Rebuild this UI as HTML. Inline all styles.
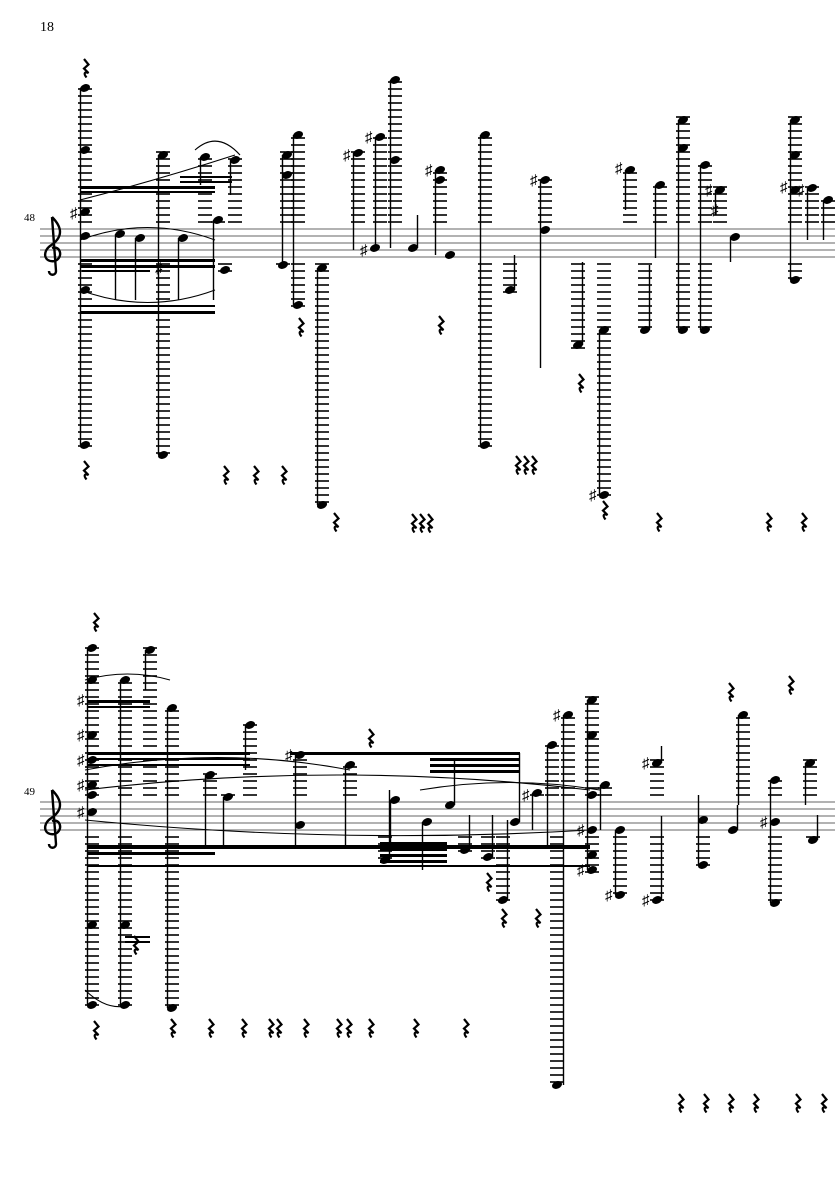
<!DOCTYPE html>
<html><head><meta charset="utf-8"><style>
html,body{margin:0;padding:0;background:#fff;}
svg{display:block;}
text{font-family:"Liberation Serif",serif;}
</style></head><body>
<svg id="s" width="835" height="1181" viewBox="0 0 835 1181" xmlns="http://www.w3.org/2000/svg">
<text x="40" y="31" font-size="14">18</text>
<text x="24" y="221" font-size="11">48</text>
<text x="24" y="795" font-size="11">49</text>
</svg>
<script>
var s=document.getElementById('s'),out='';
function L(x1,y1,x2,y2,w,c){out+='<line x1="'+x1+'" y1="'+y1+'" x2="'+x2+'" y2="'+y2+'" stroke="'+(c||'#000')+'" stroke-width="'+(w||1.3)+'"/>';}
function staff(t){for(var i=0;i<5;i++)L(40,t+i*7,835,t+i*7,1,'#666');
 out+='<path d="M52 '+(t-12)+' C62 '+(t-2)+' 64 '+(t+8)+' 50 '+(t+17)+' C42 '+(t+23)+' 44 '+(t+34)+' 55 '+(t+32)+' C64 '+(t+28)+' 60 '+(t+16)+' 52 '+(t+19)+' M52 '+(t-12)+' L56 '+(t+42)+' c0 5 -7 5 -7 0" fill="none" stroke="#000" stroke-width="2.4"/>';}
function col(t,x,heads,s1,s2){var b=t+28,mn=Math.min.apply(null,heads),mx=Math.max.apply(null,heads);
 for(var y=t-7;y>=mn-3;y-=7)L(x-7,y,x+7,y,1.6);
 for(var y=b+7;y<=mx+3;y+=7)L(x-7,y,x+7,y,1.6);
 heads.forEach(function(h){out+='<ellipse cx="'+x+'" cy="'+h+'" rx="5.2" ry="3.7" transform="rotate(-22 '+x+' '+h+')"/>';});
 if(s1!==undefined){var sx=(s2<s1)?x+4.5:x-4.5;L(sx,s1,sx,s2,1.4);}}
function rest(x,y){out+='<path d="M'+(x-1)+' '+(y-9)+' l4.5 5.5 l-4.5 4 l4.5 4.5 c-3.5 -1.5 -5.5 0 -2 4.5" fill="none" stroke="#000" stroke-width="2.2"/>';}
function bm(x1,x2,y,h){out+='<rect x="'+x1+'" y="'+y+'" width="'+(x2-x1)+'" height="'+(h||3)+'"/>';}
function slur(x1,y1,x2,y2,c){out+='<path d="M'+x1+' '+y1+' Q'+((x1+x2)/2)+' '+c+' '+x2+' '+y2+'" fill="none" stroke="#000" stroke-width="1.1"/>';}
function sh(x,y){out+='<text x="'+x+'" y="'+(y+5)+'" font-size="15" font-family="DejaVu Sans">♯</text>';}
var T1=229,T2=802;staff(T1);staff(T2);
[[85,[88,150,212,236,290,445],88,445],[163,[155,455],155,455],[205,[157],157,185],[235,[160],160,195],
[287,[155,175],155,262],[283,[265]],[298,[135,305],135,305],[322,[268,505],268,505],[358,[153],153,250],
[380,[137],137,250],[375,[248]],[395,[80,160],80,248],[413,[248],248,215],[440,[170,180],170,255],[450,[255]],
[485,[135,445],135,445],[510,[290],290,255],[545,[180,230],180,368],[578,[345],345,262],[604,[330,495],330,495],
[630,[170],170,210],[645,[330],330,265],[660,[185],185,258],[683,[120,148,330],120,330],[705,[165,330],165,330],
[720,[190],190,215],[735,[237],237,262],[795,[120,155,190,280],120,280],[812,[188],188,240],[828,[200],200,240],
[140,[238],238,300],[120,[234],234,300],[225,[270]],[218,[220],220,300],[183,[238],238,300]
].forEach(function(c){col(T1,c[0],c[1],c[2],c[3]);});
bm(80,215,186,3);bm(80,215,191,2);bm(180,232,176,2);bm(180,232,181,2);
bm(80,215,259,3);bm(80,215,265,3);bm(80,215,311,3);bm(80,215,305,2);bm(82,150,270,2);
slur(80,200,235,155,180);slur(80,240,215,240,215);slur(80,290,215,290,315);slur(195,150,240,155,130);
[[85,213],[358,155],[380,137],[440,170],[545,180],[375,250],[630,168],[720,190],[726,210],[795,187],[812,190],[604,495],[170,268]].forEach(function(p){sh(p[0]-15,p[1]);});
[[300,327],[440,325],[580,383],[225,475],[255,475],[283,475],[335,522],[413,523],[421,523],[429,523],[517,465],[525,465],[533,465],[604,510],[85,470],[658,522],[768,522],[803,522],[85,68]].forEach(function(r){rest(r[0],r[1]);});
[[92,[648,680,735,760,785,795,812,925,1005],648,1005],[125,[680,925,1005],680,1005],[150,[650],650,690],
[172,[708,1008],708,1008],[210,[775],775,845],[228,[797],797,845],[250,[725],725,770],[300,[755,825],755,845],
[350,[765],765,845],[385,[860],860,790],[395,[800],800,845],[427,[822],822,870],[450,[805],805,760],
[465,[850],850,815],[488,[857],857,815],[503,[900],900,820],[515,[822],822,753],[537,[793],793,830],
[552,[745],745,845],[568,[715],715,1085],[557,[1085]],[592,[700,735,795,830,855,870],700,870],[605,[785],785,830],
[620,[830,895],830,895],[657,[763],763,746],[657,[900],900,816],[703,[820,865],795,865],[733,[830],830,805],
[743,[715],715,805],[775,[780,822,903],780,903],[810,[763],763,805],[813,[840],840,815]
].forEach(function(c){col(T2,c[0],c[1],c[2],c[3]);});
bm(88,250,752,3);bm(88,250,758,2);bm(88,250,764,2);bm(290,520,752,3);bm(430,520,758,3);bm(430,520,764,3);bm(430,520,770,3);
bm(88,590,845,4);bm(88,590,865,2);bm(88,215,852,3);bm(380,447,842,3);bm(380,447,848,3);bm(380,447,854,3);bm(380,447,860,3);
bm(88,150,700,3);bm(88,150,706,2);bm(125,150,936,2);bm(125,150,941,2);
slur(85,680,170,680,668);slur(85,770,350,770,745);slur(85,790,590,790,760);slur(85,820,590,830,845);slur(85,990,130,1005,1012);slur(420,790,600,790,775);
[[92,735],[92,760],[92,785],[92,812],[300,755],[568,715],[537,795],[592,830],[592,870],[620,895],[657,763],[657,900],[775,822],[92,700]].forEach(function(p){sh(p[0]-15,p[1]);});
[[135,945],[172,1028],[210,1028],[243,1028],[270,1028],[278,1028],[305,1028],[338,1028],[348,1028],[370,1028],[415,1028],[465,1028],[370,738],[488,882],[503,918],[537,918],[730,692],[680,1103],[705,1103],[730,1103],[755,1103],[797,1103],[823,1103],[95,1030],[95,622],[790,685]].forEach(function(r){rest(r[0],r[1]);});
s.insertAdjacentHTML('beforeend',out);
</script>
</body></html>
